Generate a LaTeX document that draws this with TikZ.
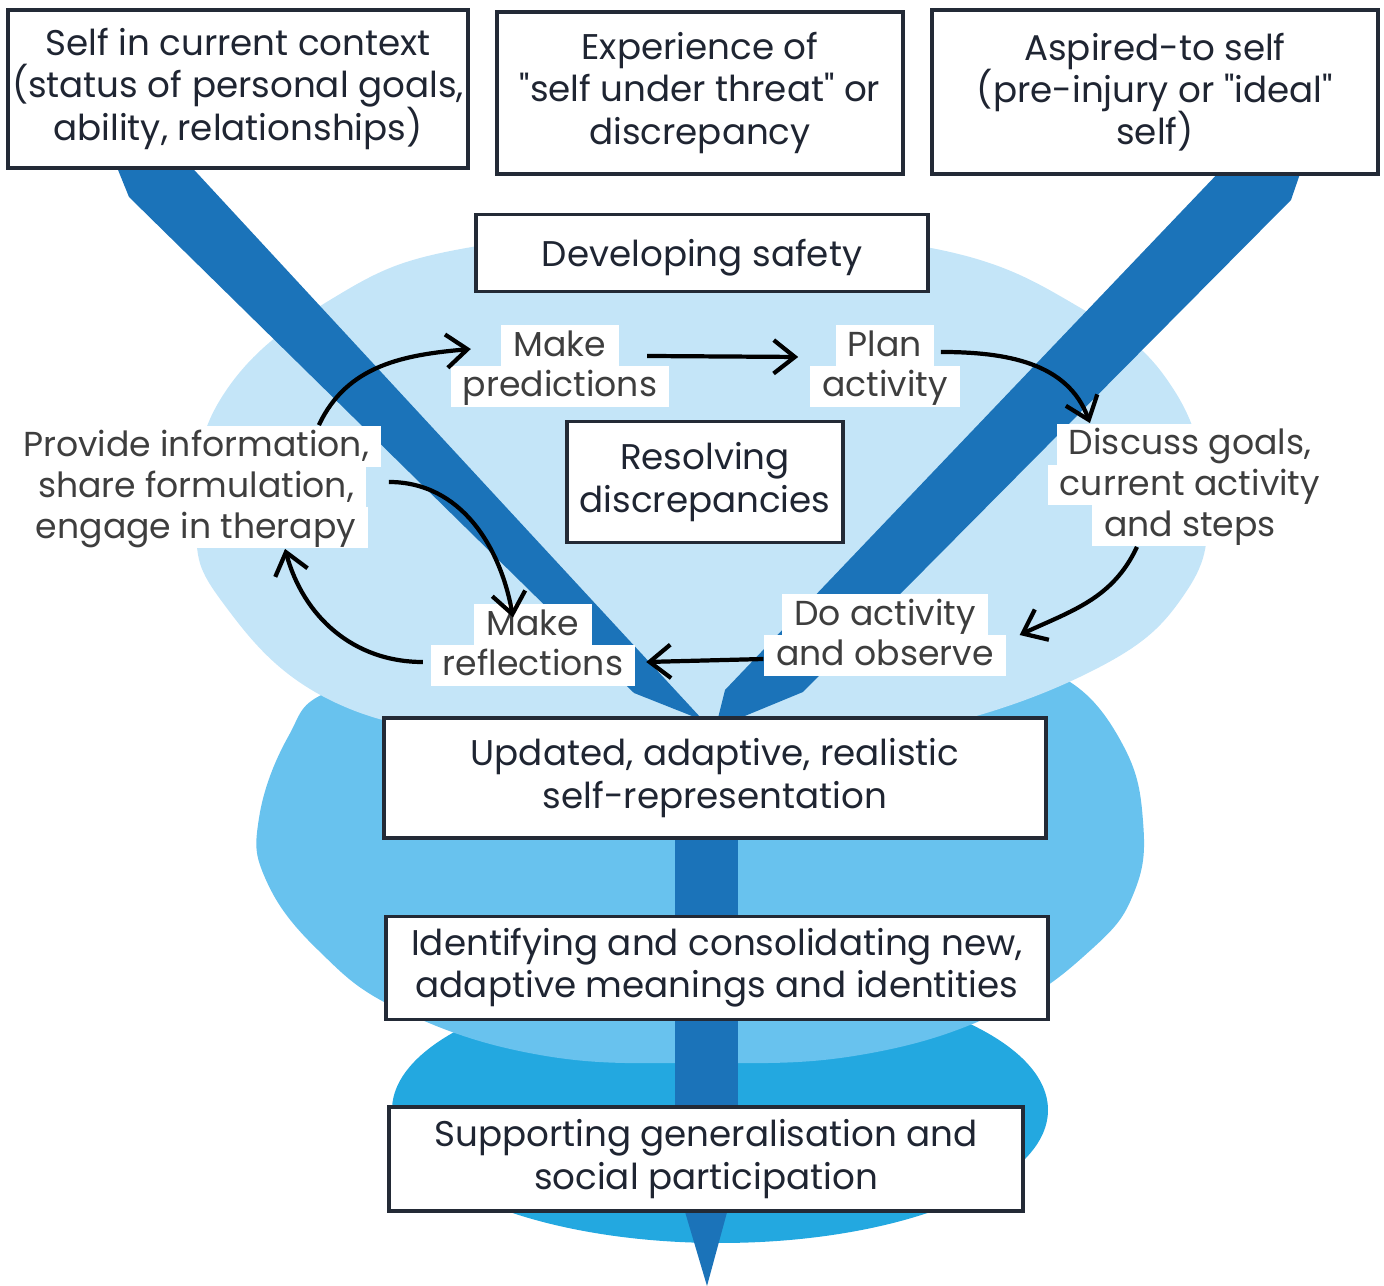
\documentclass[tikz,border=0pt]{standalone}
\usepackage{fontspec}
\setmainfont{Poppins}
\usetikzlibrary{arrows.meta}

\definecolor{haze}{HTML}{C4E5F8}
\definecolor{pool}{HTML}{68C2EE}
\definecolor{deep}{HTML}{23A8E0}
\definecolor{beam}{HTML}{1B73B9}
\definecolor{boxline}{HTML}{232A36}
\definecolor{boxtext}{HTML}{1F2532}
\definecolor{notetext}{HTML}{3E3E3E}

% white strip behind one line of a step label
\setlength{\fboxsep}{0pt}
\newcommand{\wl}[1]{\colorbox{white}{\hspace{3.5pt}\rule[-2.8pt]{0pt}{11.6pt}#1\hspace{3.5pt}}}
% fixed line pitch, even for tall glyphs
\newcommand{\tightlines}{\setlength{\lineskiplimit}{-10pt}\setlength{\lineskip}{0pt}}

\tikzset{%
  stage/.style = {draw=boxline, line width=1.1pt, fill=white, align=center,
        text=boxtext, inner sep=0pt,
        font=\fontsize{10.15}{12}\selectfont\tightlines,
        execute at begin node={\rule{0pt}{10.2pt}}},
  actnote/.style = {align=center, text=notetext, inner sep=0pt,
        font=\fontsize{9.85}{11.6}\selectfont\tightlines},
  cyc/.style = {-{Straight Barb[length=6pt,width=9.5pt]}, line width=1.2pt, black}
}

\begin{document}
\begin{tikzpicture}[x=0.01cm,y=-0.01cm]
\useasboundingbox (0,0) rectangle (1384,1286);

% background pools
\fill[deep] (720,1110) ellipse [x radius=328, y radius=133];
\fill[pool] plot[smooth cycle, tension=0.7] coordinates {(700,665) (1000,668) (1070,682)
    (1124,747) (1143,821) (1135,890) (1093,948) (1000,1012) (860,1055) (700,1063)
    (540,1055) (400,1010) (318,950) (266,880) (259,818) (288,737) (330,691) (450,668)};
\fill[haze] plot[smooth cycle, tension=0.7] coordinates {(700,236) (931,248) (1084,310)
    (1174,390) (1206,500) (1186,592) (1090,672) (900,735) (700,755) (500,740)
    (330,700) (223,603) (196,520) (220,400) (330,300) (472,247)};

% the two beams and the stem
\fill[beam] (114,160) -- (185,160) -- (701,718) -- (697,718) -- (634,693) -- (129,197) -- cycle;
\fill[beam] (1223,168) -- (1302,168) -- (1291,200) -- (803,692) -- (740,718) -- (718,718)
    -- (725,690) -- cycle;
\fill[beam] (675,830) rectangle (738,1110);
\fill[beam] (683,1205) -- (729,1205) -- (707,1286) -- cycle;

% boxes
\node[stage, minimum width=4.6cm, minimum height=1.58cm] (context) at (238,89)
    {Self in current context\\(status of personal goals,\\ability, relationships)};
\node[stage, minimum width=4.05cm, minimum height=1.62cm] (threat) at (700,93)
    {Experience of\\\textquotedbl self under threat\textquotedbl{} or\\discrepancy};
\node[stage, minimum width=4.46cm, minimum height=1.64cm] (aspired) at (1155,92)
    {Aspired-to self\\(pre-injury or \textquotedbl ideal\textquotedbl\\self)};
\node[stage, minimum width=4.51cm, minimum height=0.77cm] (safety) at (702,253)
    {Developing safety};
\node[stage, minimum width=2.75cm, minimum height=1.21cm] (resolve) at (705,482)
    {Resolving\\discrepancies};
\node[stage, minimum width=6.61cm, minimum height=1.2cm] (updated) at (715,778)
    {Updated, adaptive, realistic\\self-representation};
\node[stage, minimum width=6.61cm, minimum height=1.03cm] (identity) at (717,968)
    {Identifying and consolidating new,\\adaptive meanings and identities};
\node[stage, minimum width=6.33cm, minimum height=1.04cm] (general) at (706,1159)
    {Supporting generalisation and\\social participation};

% therapy cycle
\node[actnote] (predict) at (560,366) {\wl{Make}\\\wl{predictions}};
\node[actnote] (plan) at (885,366) {\wl{Plan}\\\wl{activity}};
\node[actnote] (discuss) at (1190,485) {\wl{Discuss goals,}\\\wl{current activity}\\\wl{and steps}};
\node[actnote] (doact) at (885,635) {\wl{Do activity}\\\wl{and observe}};
\node[actnote] (reflect) at (533,645) {\wl{Make}\\\wl{reflections}};
\node[actnote] (inform) at (196,487) {\wl{Provide information,}\\\wl{share formulation,}\\\wl{engage in therapy}};

\draw[cyc] ([xshift=-0.63cm]inform.north east) to[out=65,in=185] ([xshift=0.21cm,yshift=0.17cm]predict.west);
\draw[cyc] ([xshift=-0.23cm,yshift=0.1cm]predict.east) -- ([xshift=-0.11cm,yshift=0.09cm]plan.west);
\draw[cyc] ([xshift=-0.2cm,yshift=0.14cm]plan.east) to[out=0,in=110] ([xshift=-1.0cm]discuss.north);
\draw[cyc] ([xshift=-0.53cm]discuss.south) to[out=-115,in=25] ([xshift=0.13cm]doact.east);
\draw[cyc] ([yshift=-0.24cm]doact.west) -- ([xshift=0.1cm,yshift=-0.17cm]reflect.east);
\draw[cyc] ([xshift=-0.07cm,yshift=-0.17cm]reflect.west) to[out=180,in=-75] ([xshift=0.89cm]inform.south);
\draw[cyc] ([xshift=0.07cm,yshift=0.05cm]inform.east) to[out=0,in=100] ([xshift=-0.2cm,yshift=-0.14cm]reflect.north);
\end{tikzpicture}
\end{document}
